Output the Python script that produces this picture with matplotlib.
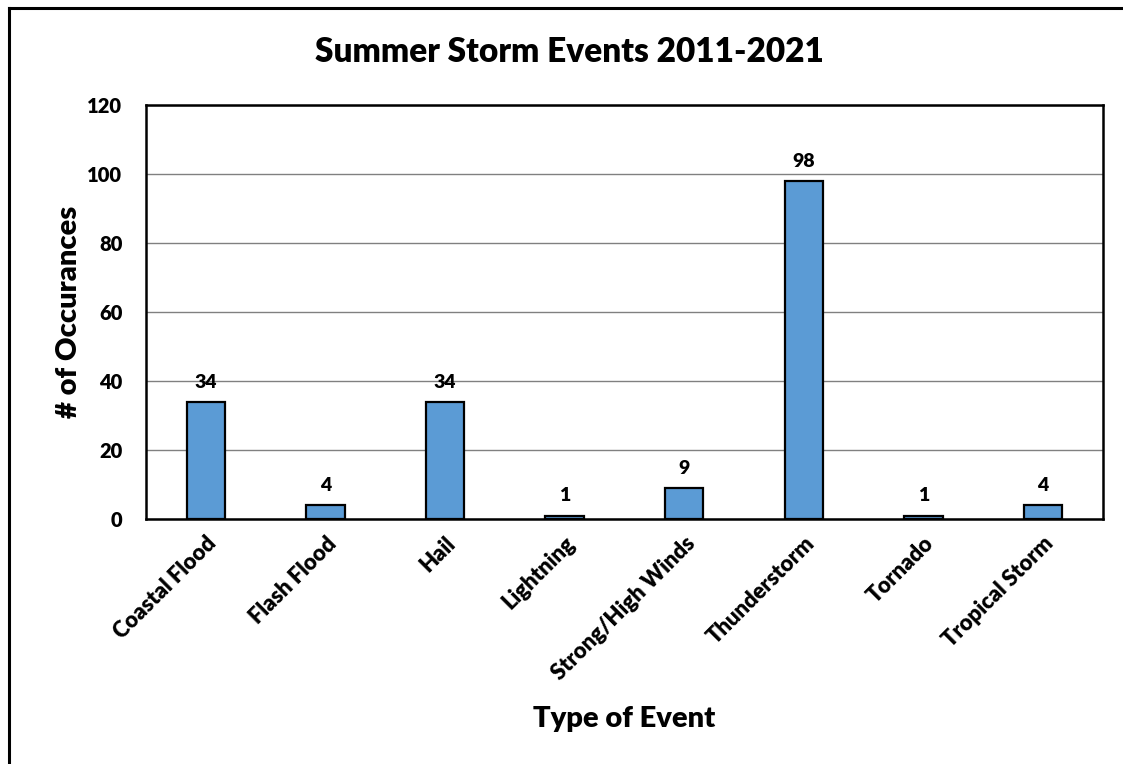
import matplotlib
matplotlib.use('Agg')
import matplotlib.pyplot as plt
from matplotlib.lines import Line2D

categories = ['Coastal Flood', 'Flash Flood', 'Hail', 'Lightning',
              'Strong/High Winds', 'Thunderstorm', 'Tornado', 'Tropical Storm']
counts = [34, 4, 34, 1, 9, 98, 1, 4]
y_ticks = [0, 20, 40, 60, 80, 100, 120]

plt.rcParams['font.family'] = ['Lato', 'DejaVu Sans']
W = 'heavy'


def main():
    fig = plt.figure(figsize=(11.23, 7.64), dpi=100)
    ax = fig.add_axes([0.130, 0.3207, 0.852, 0.5419])

    x = range(len(categories))
    bars = ax.bar(x, counts, width=0.32, color='#5B9BD5',
                  edgecolor='black', linewidth=1.6, zorder=3)
    for b, v in zip(bars, counts):
        ax.annotate(str(v), (b.get_x() + b.get_width() / 2, v),
                    xytext=(0, 8), textcoords='offset points',
                    ha='center', va='bottom', fontsize=14, fontweight=W)

    ax.set_xlim(-0.5, len(categories) - 0.5)
    ax.set_ylim(0, 120)
    ax.set_yticks(y_ticks)
    ax.set_yticklabels([str(t) for t in y_ticks], fontsize=14.5, fontweight=W)
    ax.set_xticks(list(x))
    ax.set_xticklabels(categories, rotation=45, ha='right',
                       rotation_mode='anchor', fontsize=15.8, fontweight=W)
    ax.tick_params(axis='y', length=0, pad=17)
    ax.tick_params(axis='x', length=0, pad=10)
    ax.yaxis.grid(True, color='#808080', linewidth=1.0, zorder=0)
    for s in ax.spines.values():
        s.set_linewidth(1.8)
        s.set_color('black')

    ax.set_ylabel('# of Occurances', fontsize=21, fontweight=W, labelpad=4)
    ax.set_xlabel('Type of Event', fontsize=21, fontweight=W, labelpad=16)
    fig.text(0.507, 0.932, 'Summer Storm Events 2011-2021', ha='center',
             va='center', fontsize=24, fontweight=W)

    # outer chart border (only top and left visible)
    fig.add_artist(Line2D([0.008, 1.0], [0.990, 0.990], color='black',
                          linewidth=2.2, transform=fig.transFigure))
    fig.add_artist(Line2D([0.008, 0.008], [0.0, 0.990], color='black',
                          linewidth=2.2, transform=fig.transFigure))

    fig.savefig('out.png', dpi=100)


if __name__ == '__main__':
    main()
